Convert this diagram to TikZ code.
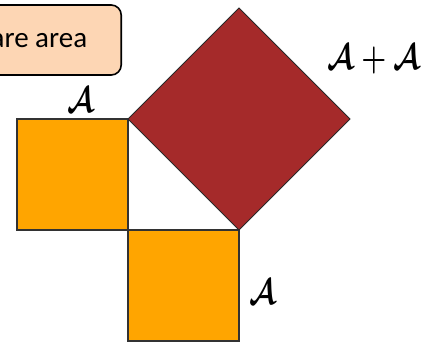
\documentclass[tikz,border=0pt]{standalone}
\usepackage{amsmath}
\usepackage{fontspec}
\setmainfont{Carlito}
\begin{document}
\begin{tikzpicture}[x=1pt,y=1pt,
  sq/.style={fill={rgb,255:red,255;green,165;blue,0}, draw={rgb,255:red,50;green,50;blue,50}, line width=1.2pt},
  dia/.style={fill={rgb,255:red,165;green,42;blue,42}, draw={rgb,255:red,40;green,40;blue,40}, line width=1pt},
  lbl/.style={font=\fontsize{24.88}{30}\selectfont\boldmath, inner sep=0pt, xscale=1.15, yscale=1.45, transform shape},
  titlebox/.style={draw=black, line width=1.6pt, rounded corners=10pt, fill={rgb,255:red,253;green,214;blue,180},
     minimum height=70pt, inner xsep=34pt, font=\fontsize{29}{34}\selectfont}]
\useasboundingbox (0,0) rectangle (438,341);
\clip (0,0) rectangle (438,341);
\coordinate (p1) at (128,222);
\coordinate (p2) at (239,333);
\coordinate (p3) at (350,222);
\coordinate (p4) at (239,111);
\draw[sq] (17,111) rectangle (128,222);
\draw[sq] (128,0) rectangle (239,111);
\draw[dia] (p1) -- (p2) -- (p3) -- (p4) -- cycle;
\node[titlebox, anchor=east] (title) at (122,301) {Square area};
\node[lbl] (a1) at (81,241) {$\mathcal{A}$};
\node[lbl] (a2) at (374,282) {$\mathcal{A}+\mathcal{A}$};
\node[lbl] (a3) at (263,49) {$\mathcal{A}$};
\end{tikzpicture}
\end{document}
